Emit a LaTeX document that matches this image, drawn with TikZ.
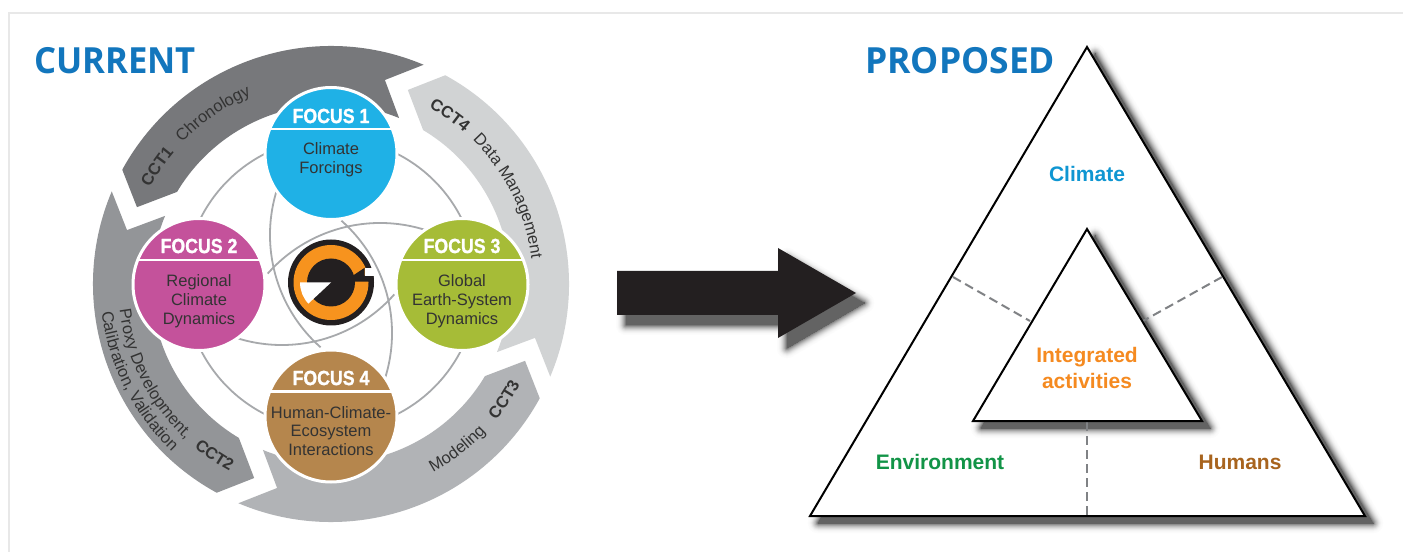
\documentclass[tikz,border=0pt]{standalone}
\usepackage{fontspec}
\setmainfont{Liberation Sans}
\newfontfamily\titlefont{Open Sans}
\newfontfamily\headfont{Liberation Sans}[BoldFeatures={FakeBold=1.2}]
\definecolor{cctA}{HTML}{77787B}
\definecolor{cctB}{HTML}{939598}
\definecolor{cctC}{HTML}{B1B3B6}
\definecolor{cctD}{HTML}{D1D3D4}
\definecolor{focA}{HTML}{1FB1E6}
\definecolor{focB}{HTML}{C4529B}
\definecolor{focC}{HTML}{A6BC37}
\definecolor{focD}{HTML}{B5864D}
\definecolor{ringgrey}{HTML}{A7A9AC}
\definecolor{inkdark}{HTML}{333333}
\definecolor{logoblack}{HTML}{231F20}
\definecolor{logoorange}{HTML}{F7931E}
\definecolor{titleblue}{HTML}{1276BD}
\definecolor{climblue}{HTML}{0F96D2}
\definecolor{intorange}{HTML}{F58A20}
\definecolor{envgreen}{HTML}{129447}
\definecolor{humbrown}{HTML}{A8641E}
\definecolor{dashgrey}{HTML}{808285}
\newcommand\bandfont{\fontsize{16.5}{18}\selectfont}
\newcommand\bandbold{\fontsize{16.5}{18}\bfseries\selectfont}
\newcommand\softshadow[2]{%
  \foreach \w in {20,19,...,0}{%
    \pgfmathsetmacro\shadep{1+60*((20-\w)/20)^2}%
    \path[fill=black!\shadep,draw=black!\shadep,line width=\w pt,line join=round,shift={(#1)}] #2;
  }}
\newcommand\cctband[2]{%
  \fill[#1,shift={(331,268)},rotate=#2]
    (151.3:238) arc[start angle=151.3,end angle=67.1,radius=238]
    -- (75.2:211) -- (67.7:179.4)
    arc[start angle=67.7,end angle=149.1,radius=179.4]
    -- (158.4:208.7) -- cycle;}
% text set letter by letter on a circle: font, text (~ = space), radius, start angle, direction (-1 clockwise, +1 anticlockwise)
\makeatletter
\newlength\arcx
\newlength\arcy
\newcount\arcn
\newcommand\arcrun[5]{%
  \def\arc@prefix{}%
  \@tfor\arc@c:=#2\do{%
    \pgfinterruptpicture
      \setbox0\hbox{#1\arc@prefix}\global\arcx=\wd0
      \setbox0\hbox{#1\arc@prefix\arc@c}\global\arcy=\wd0
    \endpgfinterruptpicture
    \pgfmathsetmacro\arc@ang{#4+#5*((\arcx+\arcy)/2/#3)*57.29578}%
    \pgfmathsetmacro\arc@rot{\arc@ang+#5*90}%
    \global\advance\arcn by 1
    \node[rotate=\arc@rot,anchor=base,inner sep=0pt,text=inkdark,font=#1] (tc\the\arcn) at (\arc@ang:#3) {\arc@c};
    \edef\arc@prefix{\unexpanded\expandafter{\arc@prefix}\unexpanded\expandafter{\arc@c}}%
  }}
\makeatother
\tikzset{
  focusdisc/.style={circle,draw=white,line width=3pt,inner sep=0pt,minimum size=132pt},
  focushead/.style={font=\headfont\fontsize{20.5}{22}\bfseries\selectfont,text=white,inner sep=0pt},
  focusbody/.style={font=\fontsize{16.5}{18.8}\selectfont,text=inkdark,inner sep=0pt,align=center},
  headrule/.style={draw=white,line width=2.5pt},
  thinring/.style={draw=ringgrey,line width=1.8pt},
  bigtitle/.style={font=\titlefont\fontsize{36}{38}\bfseries\selectfont,text=titleblue,inner sep=0pt},
  trilabel/.style={font=\fontsize{21}{26}\bfseries\selectfont,inner sep=0pt,align=center},
  tri/.style={draw=black,fill=white,line width=2pt,line join=miter},
  divider/.style={draw=dashgrey,line width=2pt,dash pattern=on 9pt off 5pt}
}
\begin{document}
\begin{tikzpicture}[x=1pt,y=1pt]
\useasboundingbox (0,0) rectangle (1403,552);
\fill[white] (0,0) rectangle (1403,552);
\draw[color=black!9,line width=2.5pt] (9,0) -- (9,539) -- (1403,539);

% bands
\cctband{cctA}{0}
\cctband{cctD}{-90}
\cctband{cctC}{-180}
\cctband{cctB}{-270}

% band texts
\begin{scope}[shift={(331,268)}]
\arcrun{\bandbold}{CCT1}{205}{152}{-1}
\arcrun{\bandfont}{Chronology}{205}{136.5}{-1}
\arcrun{\bandbold}{CCT4}{202}{61}{-1}
\arcrun{\bandfont}{Data~Management}{202}{45.5}{-1}
\arcrun{\bandfont}{Modeling}{214}{-61.5}{1}
\arcrun{\bandbold}{CCT3}{214}{-39.5}{1}
\arcrun{\bandfont}{Proxy~Development,}{213}{187}{1}
\arcrun{\bandbold}{CCT2}{213}{230}{1}
\arcrun{\bandfont}{Calibration,~Validation}{231}{187}{1}
\end{scope}

% thin rings
\draw[thinring] (331,268) circle[radius=146];
\foreach \a in {0,90,180,270}{
  \draw[thinring,shift={(331,268)},rotate=\a] (-63.3,10.4) arc[start angle=138.5,end angle=60,radius=150];
}

% focus discs
\node[focusdisc,fill=focA] (f1) at (331,398.5) {};
\node[focusdisc,fill=focB] (f2) at (199,267.5) {};
\node[focusdisc,fill=focC] (f3) at (462,267.5) {};
\node[focusdisc,fill=focD] (f4) at (331,136) {};
\foreach \n in {f1,f2,f3,f4}{
  \draw[headrule] ([shift={(-60,24.5)}]\n.center) -- ([shift={(60,24.5)}]\n.center);
}
\node[focushead] (h1) at (331,436) {\scalebox{.865}[1]{FOCUS 1}};
\node[focushead] (h2) at (199,306) {\scalebox{.865}[1]{FOCUS 2}};
\node[focushead] (h3) at (462,306) {\scalebox{.865}[1]{FOCUS 3}};
\node[focushead] (h4) at (331,174) {\scalebox{.865}[1]{FOCUS 4}};
\node[focusbody] (b1) at (331,392.5) {Climate\\Forcings};
\node[focusbody] (b2) at (199,251) {Regional\\Climate\\Dynamics};
\node[focusbody] (b3) at (462,251) {Global\\Earth-System\\Dynamics};
\node[focusbody] (b4) at (331,121) {Human-Climate-\\Ecosystem\\Interactions};

% logo
\begin{scope}[shift={(331,269.5)}]
\fill[logoblack] (0,0) circle[radius=43];
\fill[logoorange] (0,0) circle[radius=37.5];
\fill[logoblack] (0,0) circle[radius=24];
\fill[logoblack] (22,.8) -- (42.7,.8) -- (42.7,6.8) -- (33.7,6.8) -- (33.7,14.8) -- (20.3,5.8) -- cycle;
\fill[white] (33.7,6.8) rectangle (45,14.8);
\fill[white] (0,0) -- (-31,0) arc[start angle=180,end angle=223,radius=31] -- cycle;
\end{scope}

% big arrow
\softshadow{9,-10}{(617,281) -- (778,281) -- (778,304) -- (855,259) -- (778,214) -- (778,237) -- (617,237) -- cycle}
\fill[logoblack] (617,281) -- (778,281) -- (778,304) -- (856,259) -- (778,214) -- (778,237) -- (617,237) -- cycle;

% triangles
\coordinate (oa) at (1087,505);
\coordinate (ol) at (810,36);
\coordinate (or) at (1365,36);
\coordinate (ia) at (1087,323);
\coordinate (il) at (973,131);
\coordinate (ir) at (1202,131);
\softshadow{8,-7}{(1087,505) -- (810,36) -- (1365,36) -- cycle}
\draw[tri] (oa) -- (ol) -- (or) -- cycle;
\softshadow{8,-7}{(1087,323) -- (973,131) -- (1202,131) -- cycle}
\coordinate (d1a) at (953,275);
\coordinate (d1b) at (1030,231);
\coordinate (d2a) at (1222,275);
\coordinate (d2b) at (1143,231);
\coordinate (d3a) at (1087,130);
\coordinate (d3b) at (1087,36);
\draw[divider] (d1a) -- (d1b);
\draw[divider] (d2a) -- (d2b);
\draw[divider] (d3a) -- (d3b);
\draw[tri] (ia) -- (il) -- (ir) -- cycle;

% labels
\node[bigtitle,anchor=base west] (cur) at (34,478) {\scalebox{.963}[1]{CURRENT}};
\node[bigtitle,anchor=base west] (pro) at (865,478) {\scalebox{.985}[1]{PROPOSED}};
\node[trilabel,text=climblue] (cl) at (1087,378) {Climate};
\node[trilabel,text=intorange] (ia2) at (1087,184) {Integrated\\activities};
\node[trilabel,text=envgreen] (en) at (940,90) {Environment};
\node[trilabel,text=humbrown] (hu) at (1240,90) {Humans};
\end{tikzpicture}
\end{document}
